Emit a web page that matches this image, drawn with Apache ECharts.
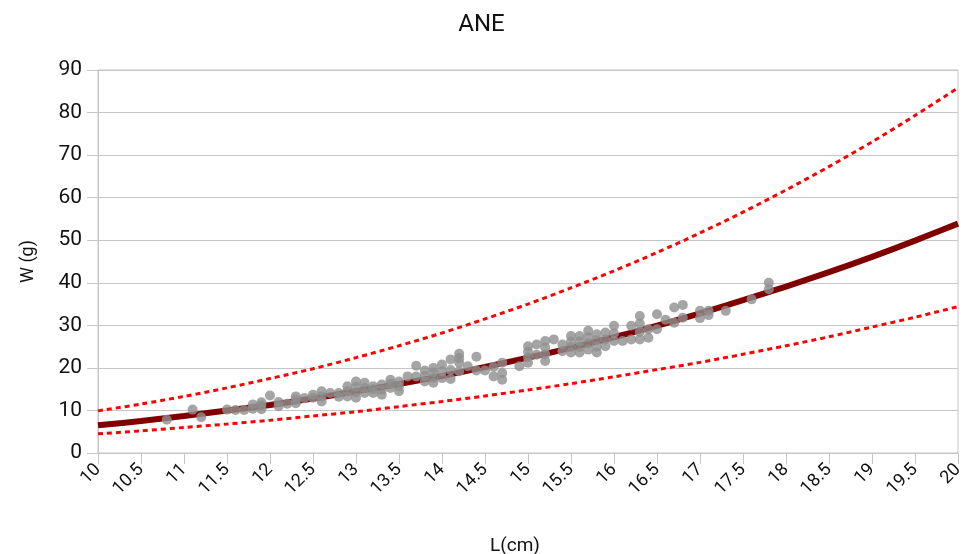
<!DOCTYPE html>
<html>
<head>
<meta charset="utf-8">
<title>ANE</title>
<script src="https://cdn.jsdelivr.net/npm/echarts@6/dist/echarts.min.js"></script>
<style>
  html, body { margin: 0; padding: 0; background: #fff; }
  #chart { width: 963px; height: 554px; }
</style>
</head>
<body>
<div id="chart"></div>
<script>
// Observed length (cm) / weight (g) pairs
const scatterL = [
  10.8, 11.1, 11.2, 11.5, 11.6, 11.7, 11.8, 11.8, 11.9, 11.9, 11.9, 12.0,
  12.1, 12.1, 12.2, 12.3, 12.3, 12.3, 12.4, 12.5, 12.5, 12.6, 12.6, 12.6,
  12.7, 12.8, 12.8, 12.9, 12.9, 12.9, 13.0, 13.0, 13.0, 13.0, 13.1, 13.1,
  13.1, 13.2, 13.2, 13.2, 13.3, 13.3, 13.3, 13.4, 13.4, 13.4, 13.5, 13.5,
  13.5, 13.6, 13.7, 13.7, 13.8, 13.8, 13.8, 13.9, 13.9, 13.9, 13.9, 14.0,
  14.0, 14.0, 14.1, 14.1, 14.1, 14.2, 14.2, 14.2, 14.2, 14.3, 14.4, 14.4,
  14.5, 14.6, 14.6, 14.7, 14.7, 14.7, 14.9, 15.0, 15.0, 15.0, 15.0, 15.1,
  15.1, 15.2, 15.2, 15.2, 15.2, 15.3, 15.4, 15.4, 15.5, 15.5, 15.5, 15.5,
  15.6, 15.6, 15.6, 15.6, 15.7, 15.7, 15.7, 15.7, 15.8, 15.8, 15.8, 15.8,
  15.9, 15.9, 15.9, 16.0, 16.0, 16.0, 16.1, 16.2, 16.2, 16.3, 16.3, 16.3,
  16.3, 16.4, 16.4, 16.5, 16.5, 16.6, 16.7, 16.7, 16.8, 16.8, 17.0, 17.0,
  17.1, 17.1, 17.3, 17.6, 17.8, 17.8
];
const scatterW = [
  7.8, 10.2, 8.4, 10.2, 10.1, 10.1, 10.4, 11.4, 10.3, 11.2, 11.9, 13.5,
  11.0, 12.0, 11.6, 11.7, 12.5, 13.3, 12.9, 13.0, 13.7, 12.1, 13.3, 14.5,
  14.1, 13.2, 14.1, 13.3, 14.5, 15.7, 13.0, 14.3, 15.5, 16.8, 14.1, 15.3,
  16.5, 14.1, 15.0, 15.7, 13.7, 14.9, 16.1, 15.3, 16.3, 17.2, 14.5, 15.7,
  16.8, 18.0, 18.0, 20.5, 16.8, 18.1, 19.4, 16.5, 17.7, 18.9, 20.0, 17.6,
  19.2, 20.8, 17.4, 19.5, 22.0, 19.2, 21.2, 22.3, 23.3, 20.4, 19.4, 22.6,
  19.4, 18.0, 20.2, 17.2, 18.8, 21.2, 20.4, 21.2, 22.5, 23.8, 25.1, 23.1,
  25.5, 21.6, 23.2, 24.8, 26.3, 26.7, 23.9, 25.5, 23.6, 24.9, 26.2, 27.5,
  23.6, 24.9, 26.2, 27.5, 24.3, 25.8, 27.2, 28.7, 23.6, 25.0, 26.5, 27.9,
  25.1, 26.7, 28.3, 26.3, 28.1, 29.9, 26.3, 26.7, 29.9, 26.7, 28.5, 30.4,
  32.2, 27.1, 29.1, 29.1, 32.6, 31.3, 30.6, 34.2, 31.8, 34.8, 31.7, 33.4,
  32.4, 33.4, 33.4, 36.1, 38.5, 40.0
];

// Curve sample lengths and the fitted / bound weights at each
const curveL = [10, 10.5, 11, 11.5, 12, 12.5, 13, 13.5, 14, 14.5, 15,
                15.5, 16, 16.5, 17, 17.5, 18, 18.5, 19, 19.5, 20];
const fitW   = [6.5, 7.5, 8.7, 10.0, 11.3, 12.8, 14.5, 16.2, 18.1, 20.2, 22.4,
                24.7, 27.2, 29.9, 32.8, 35.9, 39.1, 42.5, 46.1, 49.9, 53.9];
const upperW = [9.9, 11.5, 13.3, 15.3, 17.5, 19.8, 22.4, 25.2, 28.2, 31.5, 35.0,
                38.8, 42.8, 47.1, 51.7, 56.6, 61.8, 67.3, 73.1, 79.3, 85.8];
const lowerW = [4.5, 5.2, 6.0, 6.8, 7.7, 8.7, 9.7, 10.9, 12.1, 13.4, 14.8,
                16.3, 17.9, 19.6, 21.3, 23.2, 25.2, 27.3, 29.6, 31.9, 34.4];

const title = 'ANE';
const xName = 'L(cm)';
const yName = 'W (g)';

const zip = (xs, ys) => xs.map((x, i) => [x, ys[i]]);

const chart = echarts.init(document.getElementById('chart'), null, { renderer: 'canvas' });

const font = 'Roboto, "DejaVu Sans", sans-serif';
const gridGray = '#c6c6c6';

chart.setOption({
  animation: false,
  backgroundColor: '#ffffff',
  textStyle: { fontFamily: font },
  title: {
    text: title,
    left: 'center',
    top: 8,
    textStyle: { fontFamily: font, fontSize: 24, fontWeight: 'normal', color: '#111' }
  },
  grid: {
    left: 98, right: 5, top: 70, bottom: 101,
    outerBoundsMode: 'none',
    containLabel: false,
    show: true, borderColor: gridGray, borderWidth: 1
  },
  xAxis: {
    type: 'value',
    min: 10, max: 20, interval: 0.5,
    name: xName,
    nameLocation: 'middle',
    nameGap: 84,
    nameTextStyle: { fontFamily: font, fontSize: 19, color: '#111', padding: [0, 26, 0, 0] },
    axisLine: { show: true, lineStyle: { color: gridGray, width: 1 } },
    axisTick: { show: true, length: 11, lineStyle: { color: gridGray } },
    splitLine: { show: false },
    axisLabel: {
      rotate: 45,
      fontFamily: font,
      fontSize: 18,
      color: '#111',
      margin: 14,
      formatter: v => String(v)
    }
  },
  yAxis: {
    type: 'value',
    min: 0, max: 90, interval: 10,
    name: yName,
    nameLocation: 'middle',
    nameRotate: 90,
    nameGap: 61,
    nameTextStyle: { fontFamily: font, fontSize: 18, color: '#111' },
    axisLine: { show: true, lineStyle: { color: gridGray, width: 1 } },
    axisTick: { show: true, length: 11, lineStyle: { color: gridGray } },
    splitLine: { show: true, lineStyle: { color: gridGray, width: 1 } },
    axisLabel: { fontFamily: font, fontSize: 21, color: '#111', margin: 16 }
  },
  series: [
    {
      type: 'line',
      name: 'upper',
      data: zip(curveL, upperW),
      smooth: 0.3,
      showSymbol: false,
      lineStyle: { color: '#ff0000', width: 3, type: [5, 4] },
      z: 2
    },
    {
      type: 'line',
      name: 'lower',
      data: zip(curveL, lowerW),
      smooth: 0.3,
      showSymbol: false,
      lineStyle: { color: '#ff0000', width: 3, type: [5, 4] },
      z: 2
    },
    {
      type: 'line',
      name: 'fit',
      data: zip(curveL, fitW),
      smooth: 0.3,
      showSymbol: false,
      lineStyle: { color: '#800000', width: 6 },
      z: 3
    },
    {
      type: 'scatter',
      name: 'observed',
      data: zip(scatterL, scatterW),
      symbol: 'circle',
      symbolSize: 10,
      itemStyle: { color: '#8f8f8f' },
      z: 4
    }
  ]
});
</script>
</body>
</html>
